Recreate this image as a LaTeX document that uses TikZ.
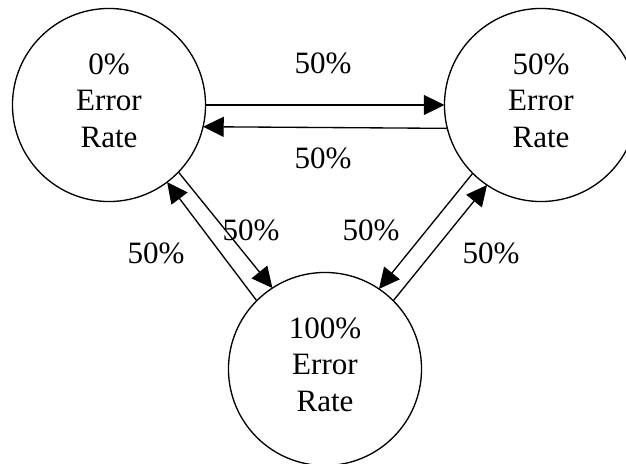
\documentclass[tikz,border=0pt]{standalone}
\usepackage{fontspec}
\setmainfont{Liberation Serif}
\usetikzlibrary{arrows.meta}
\begin{document}
\begin{tikzpicture}[x=0.75pt,y=-0.75pt,
  state/.style={circle,draw,line width=1pt,minimum size=144.8pt,inner sep=0pt,
    outer sep=0pt,align=center,font=\fontsize{23.3}{27.4}\selectfont,text depth=7pt},
  flow/.style={line width=1pt,-{Triangle[length=15.5pt,width=15pt]}},
  prob/.style={font=\fontsize{23.3}{27.4}\selectfont,anchor=base,inner sep=0pt}]
\useasboundingbox (0,0) rectangle (626,464);

% the three states
\node[state] (L) at (109,105) {0\%\\Error\\Rate};
\node[state] (R) at (541,105) {50\%\\Error\\Rate};
\node[state] (B) at (325,369) {100\%\\Error\\Rate};

% transitions between the states
\draw[flow] (L.0) -- (R.180);
\draw[flow] (R.-166.2) -- (L.-13.8);
\draw[flow] (B.135.4) -- (L.-53.9);
\draw[flow] (L.-44.6) -- (B.123);
\draw[flow] (R.-135) -- (B.56.3);
\draw[flow] (B.45.8) -- (R.-124.9);

% transition probabilities
\node[prob] (p1) at (323,73) {50\%};
\node[prob] (p2) at (323,168) {50\%};
\node[prob] (p3) at (156,263) {50\%};
\node[prob] (p4) at (251,240) {50\%};
\node[prob] (p5) at (371,240) {50\%};
\node[prob] (p6) at (491,263) {50\%};
\end{tikzpicture}
\end{document}
